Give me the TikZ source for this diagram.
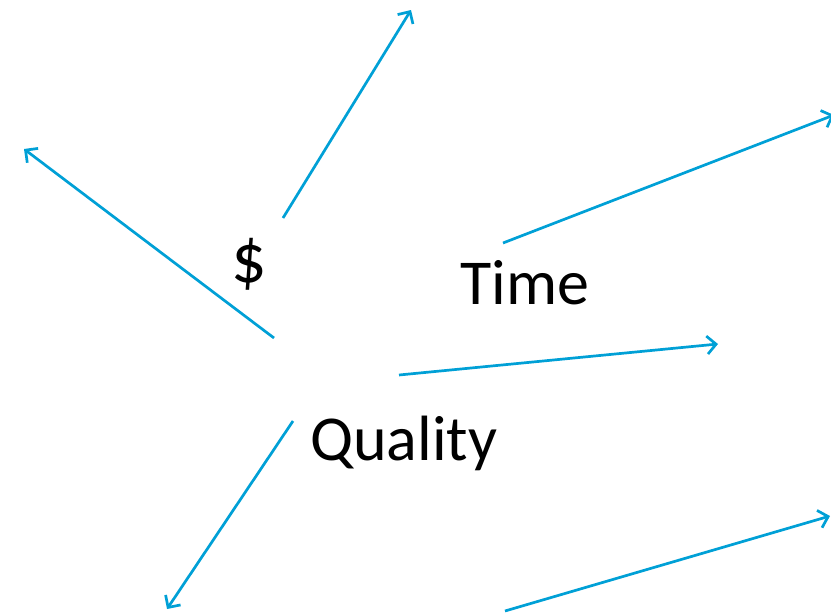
\documentclass[tikz,border=0pt]{standalone}
\usepackage{fontspec}
\setmainfont{Carlito}
\usetikzlibrary{arrows.meta}
\definecolor{arrowblue}{RGB}{0,160,214}
\begin{document}
\begin{tikzpicture}[x=1pt,y=-1pt,
  ray/.style={draw=arrowblue,line width=2.7pt,-{Straight Barb[length=9pt,width=18pt,line width=2.7pt]}},
  word/.style={inner sep=0pt,font=\fontsize{64}{76}\selectfont}]
  \useasboundingbox (0,0) rectangle (831,616);
  \clip (0,0) rectangle (831,616);
  % labels
  \node[word,anchor=base,font=\fontsize{70}{80}\selectfont] (dollar) at (249,282) {\$};
  \node[word,anchor=base west] (time) at (460,304) {Time};
  \node[word,anchor=base west] (quality) at (310,460) {Quality};
  % ray end points
  \coordinate (a0) at (274,338); \coordinate (a1) at (24,149);
  \coordinate (b0) at (283,218); \coordinate (b1) at (411,10);
  \coordinate (c0) at (503,243); \coordinate (c1) at (834,115);
  \coordinate (d0) at (399,375); \coordinate (d1) at (718,344);
  \coordinate (e0) at (293,421); \coordinate (e1) at (167,609);
  \coordinate (f0) at (505,611); \coordinate (f1) at (830,516);
  % rays
  \draw[ray] (a0) -- (a1);
  \draw[ray] (b0) -- (b1);
  \draw[ray] (c0) -- (c1);
  \draw[ray] (d0) -- (d1);
  \draw[ray] (e0) -- (e1);
  \draw[ray] (f0) -- (f1);
\end{tikzpicture}
\end{document}
